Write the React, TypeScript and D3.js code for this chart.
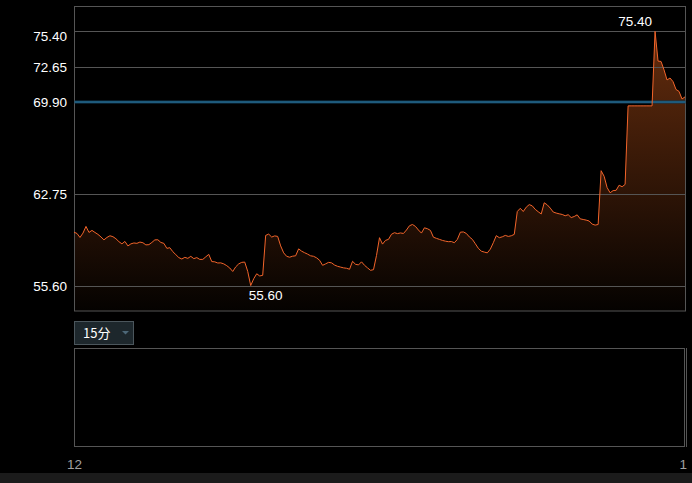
import React from "react";
import * as d3 from "d3";

const prices: number[] = [
  59.76, 59.66, 59.35, 59.69, 60.21, 59.74, 59.9, 59.74, 59.59, 59.39,
  59.16, 59.35, 59.48, 59.41, 59.25, 59.02, 58.85, 59.04, 58.69, 58.85,
  58.92, 58.89, 58.99, 58.94, 58.77, 58.79, 58.96, 59.16, 59.17, 58.96,
  58.89, 58.5, 58.55, 58.24, 58.01, 57.78, 57.67, 57.8, 57.72, 57.88,
  57.7, 57.78, 57.64, 57.64, 57.84, 58.03, 57.47, 57.45, 57.36, 57.37,
  57.29, 57.15, 56.97, 56.7, 57.06, 57.29, 57.41, 57.43, 56.71, 55.6,
  56.13, 56.52, 56.35, 56.4, 59.51, 59.61, 59.38, 59.47, 59.43, 58.69,
  58.15, 57.88, 57.81, 57.89, 57.92, 58.46, 58.28, 58.16, 58.05, 57.92,
  57.88, 57.76, 57.57, 57.18, 57.29, 57.41, 57.37, 57.2, 57.1, 57.04,
  56.98, 56.95, 56.87, 57.49, 57.26, 57.21, 57.45, 57.18, 56.98, 56.79,
  56.84, 57.95, 59.33, 58.83, 59.12, 59.2, 59.6, 59.72, 59.65, 59.7,
  59.66, 59.93, 60.26, 60.36, 60.21, 59.93, 59.69, 60.1, 60.03, 59.9,
  59.37, 59.28, 59.2, 59.12, 59.06, 59.02, 59.03, 58.94, 59.2, 59.76,
  59.78, 59.66, 59.39, 59.2, 58.86, 58.5, 58.28, 58.21, 58.15, 58.44,
  58.94, 59.49, 59.33, 59.4, 59.51, 59.43, 59.48, 59.59, 61.37, 61.62,
  61.37, 61.71, 61.91, 61.81, 61.54, 61.35, 61.18, 62.05, 61.89, 61.64,
  61.33, 61.25, 61.19, 61.14, 61.04, 61.12, 60.9, 60.98, 61.11, 60.8,
  60.75, 60.7, 60.63, 60.39, 60.31, 60.36, 64.55, 64.11, 63.23, 62.83,
  63.0, 63.02, 63.42, 63.3, 63.48, 69.6, 69.6, 69.6, 69.6, 69.6,
  69.6, 69.6, 69.6, 69.6, 75.4, 73.09, 73.06, 72.4, 71.62, 71.77,
  71.49, 70.88, 70.73, 70.14, 70.3,
];

const yTicks: number[] = [75.4, 72.65, 69.9, 62.75, 55.6];
const refPrice = 69.9;
const xLabels: string[] = ["12", "1"];
const periodLabel = "15分";

const W = 692;
const H = 483;
const FONT = "'Liberation Sans', Arial, sans-serif";

export default function App() {
  const left = 74.5;
  const right = 685.5;
  const top = 6.5;
  const bottom = 311;

  const maxV = d3.max(prices) as number;
  const minV = d3.min(prices) as number;
  const pad = (maxV - minV) * 0.1;

  const x = d3.scaleLinear().domain([0, prices.length - 1]).range([74, 685]);
  const y = d3.scaleLinear().domain([minV - pad, maxV + pad]).range([bottom, 6]);

  const line = d3
    .line<number>()
    .x((_, i) => x(i))
    .y((d) => y(d));
  const area = d3
    .area<number>()
    .x((_, i) => x(i))
    .y0(bottom)
    .y1((d) => y(d));

  const maxI = prices.indexOf(maxV);
  const minI = prices.indexOf(minV);

  return (
    <svg
      width={W}
      height={H}
      style={{ position: "fixed", left: 0, top: 0, display: "block" }}
      fontFamily={FONT}
    >
      <defs>
        <linearGradient id="areaGrad" gradientUnits="userSpaceOnUse" x1="0" y1={y(maxV)} x2="0" y2={bottom}>
          <stop offset="0" stopColor="#f06a20" stopOpacity={0.42} />
          <stop offset="1" stopColor="#f06a20" stopOpacity={0.02} />
        </linearGradient>
      </defs>
      <rect x={0} y={0} width={W} height={H} fill="#000" />

      {/* area */}
      <path d={area(prices) || ""} fill="url(#areaGrad)" />

      {/* main plot frame */}
      <rect x={left} y={top} width={right - left} height={bottom - top} fill="none" stroke="#555" strokeWidth={1} />

      {/* grid lines */}
      {yTicks
        .filter((t) => t !== refPrice)
        .map((t) => (
          <line key={t} x1={left} x2={right} y1={Math.round(y(t)) + 0.5} y2={Math.round(y(t)) + 0.5} stroke="#555" strokeWidth={1} />
        ))}

      {/* reference line */}
      <line x1={left} x2={right} y1={y(refPrice)} y2={y(refPrice)} stroke="#0f3a55" strokeWidth={3} />
      <line x1={left} x2={right} y1={y(refPrice)} y2={y(refPrice)} stroke="#2f7aa3" strokeWidth={1} />

      <path d={line(prices) || ""} fill="none" stroke="#f2642a" strokeWidth={1} />

      {/* y labels */}
      {yTicks.map((t) => (
        <text
          key={"l" + t}
          x={67}
          y={y(t) + (t === maxV ? 9.5 : 5)}
          textAnchor="end"
          fill="#fff"
          fontSize={13.5}
        >
          {t.toFixed(2)}
        </text>
      ))}

      {/* max / min annotations */}
      <text x={x(maxI) - 3} y={y(maxV) - 5.5} textAnchor="end" fill="#fff" fontSize={13.5}>
        {maxV.toFixed(2)}
      </text>
      <text x={x(minI) - 2} y={y(minV) + 14} textAnchor="start" fill="#fff" fontSize={13.5}>
        {minV.toFixed(2)}
      </text>

      {/* period selector */}
      <rect x={74.5} y={321.5} width={59} height={23} fill="#1d272c" stroke="#4b565c" strokeWidth={1} />
      <text x={83} y={338} fill="#fff" fontSize={13} fontFamily={"'Noto Sans CJK SC', " + FONT}>
        {periodLabel}
      </text>
      <path d="M122,331 L129,331 L125.5,334.5 Z" fill="#4d6878" />

      {/* lower panel */}
      <rect x={74.5} y={348.5} width={610} height={98} fill="none" stroke="#555" strokeWidth={1} />
      <line x1={686.5} x2={686.5} y1={348} y2={447} stroke="#555" strokeWidth={1} />

      {/* x labels */}
      <text x={74.5} y={469} textAnchor="middle" fill="#a0a0a0" fontSize={13.5}>
        {xLabels[0]}
      </text>
      <text x={687} y={469} textAnchor="end" fill="#a0a0a0" fontSize={13.5}>
        {xLabels[1]}
      </text>

      {/* bottom bar */}
      <rect x={0} y={473} width={W} height={10} fill="#1b1b1b" />
    </svg>
  );
}
